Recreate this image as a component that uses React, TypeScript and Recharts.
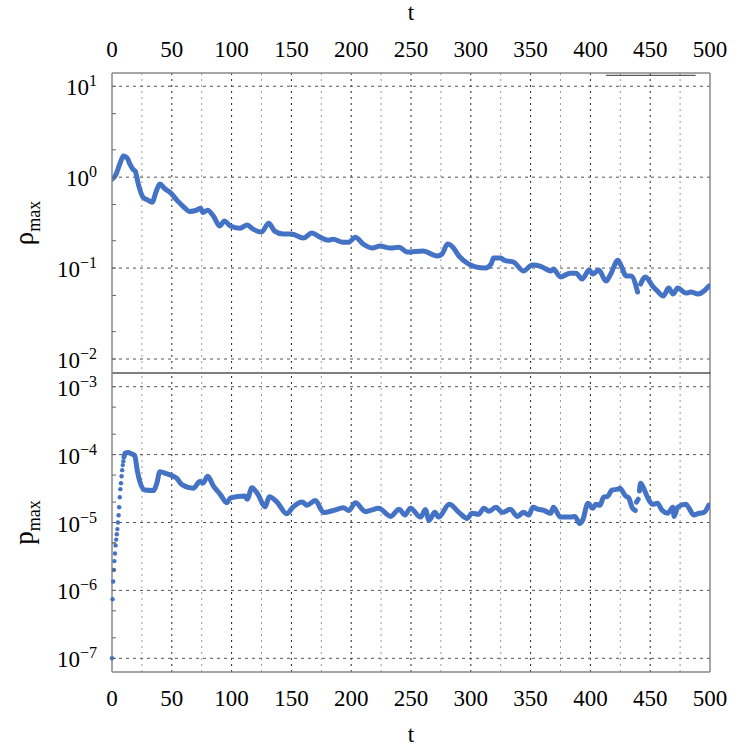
import React from 'react';
import { LineChart, Line, XAxis, YAxis, ReferenceLine } from 'recharts';

// ---------- data ----------
const T_RHO = [0, 3, 7, 9.5, 13, 15, 17.6, 19.5, 22, 26, 30, 33.5, 37, 40, 44, 48.6, 55, 60, 65, 70, 74, 76, 80, 85, 90, 94, 99, 107, 113, 118, 125, 131, 136, 143, 150, 160, 167, 174, 181, 185, 193, 198, 203.5, 210, 218, 224, 233, 240, 247, 260, 272, 276, 280.5, 285, 290, 298, 304, 312, 317, 319, 325, 328, 336, 344, 351.5, 358, 367, 369, 375, 383, 388, 393, 399, 402, 407, 413, 417, 423, 425, 430, 434, 439.5, 441, 442, 446, 452, 456, 461, 465.5, 469, 473, 480, 484, 490, 495, 499];
const RHO = [0.95, 1.05, 1.45, 1.71, 1.6, 1.39, 1.22, 1.16, 0.84, 0.6, 0.56, 0.53, 0.7, 0.84, 0.75, 0.68, 0.545, 0.47, 0.42, 0.43, 0.456, 0.41, 0.434, 0.37, 0.29, 0.33, 0.29, 0.275, 0.297, 0.268, 0.249, 0.312, 0.255, 0.237, 0.237, 0.214, 0.243, 0.219, 0.203, 0.208, 0.193, 0.193, 0.219, 0.184, 0.166, 0.175, 0.166, 0.17, 0.15, 0.154, 0.136, 0.143, 0.184, 0.17, 0.136, 0.111, 0.103, 0.1, 0.111, 0.129, 0.129, 0.122, 0.116, 0.093, 0.108, 0.105, 0.093, 0.0975, 0.08, 0.088, 0.088, 0.0757, 0.095, 0.086, 0.095, 0.072, 0.086, 0.122, 0.111, 0.0817, 0.0817, 0.0545, null, 0.0667, 0.08, 0.0634, 0.0559, 0.0492, 0.0603, 0.0518, 0.0603, 0.0531, 0.0545, 0.0518, 0.0559, 0.0634];

const T_P_EARLY = [0, 0.5, 1, 1.5, 2, 2.5, 3, 3.5, 4, 4.5, 5, 5.5, 6, 6.5, 7, 7.5, 8, 8.5, 9, 9.5];
const P_EARLY = [1e-7, 7.4e-7, 1.35e-6, 2.0e-6, 2.7e-6, 3.5e-6, 4.6e-6, 5.6e-6, 6.7e-6, 8.0e-6, 1.0e-5, 1.28e-5, 1.68e-5, 2.36e-5, 3.1e-5, 3.8e-5, 4.8e-5, 5.9e-5, 7.0e-5, 8.0e-5];

const T_P = [10, 11, 13.5, 16, 19, 21, 23.5, 27.5, 34.5, 37.5, 40, 46, 50, 54, 58.5, 68, 73.5, 76, 80, 85, 90.5, 96, 99, 111, 113, 117, 122, 128, 131.5, 138, 146, 151.5, 159, 163, 170, 177, 185, 193.5, 198, 203.5, 212, 216, 223, 233, 240, 245, 249.5, 258, 262, 265, 270, 273, 282, 290, 297, 301, 306.5, 311, 315, 321, 326.5, 333, 339, 344, 348.5, 352, 356, 361, 367, 369, 375, 383.5, 387, 391, 393.5, 398, 402, 404.5, 408, 411, 414.5, 418, 423, 424.5, 429.5, 432, 435, 437.5, 438, 438.5, 440, 440.5, 441, 442, 444.5, 448, 452, 456, 460, 464.5, 469, 470, 473, 480, 482.5, 486.5, 491, 495, 499];
const P = [9.2e-5, 1.05e-4, 1.07e-4, 1.03e-4, 9.7e-5, 6e-5, 3.9e-5, 3.0e-5, 2.95e-5, 3.8e-5, 5.6e-5, 5.2e-5, 4.9e-5, 4.5e-5, 3.6e-5, 3.2e-5, 4.0e-5, 3.8e-5, 4.8e-5, 3.4e-5, 2.6e-5, 1.95e-5, 2.3e-5, 2.45e-5, 2.2e-5, 3.25e-5, 2.6e-5, 1.7e-5, 2.4e-5, 2.0e-5, 1.35e-5, 1.7e-5, 2.0e-5, 1.8e-5, 2.1e-5, 1.4e-5, 1.5e-5, 1.65e-5, 1.5e-5, 1.95e-5, 1.45e-5, 1.51e-5, 1.62e-5, 1.23e-5, 1.57e-5, 1.29e-5, 1.62e-5, 1.2e-5, 1.55e-5, 1.08e-5, 1.41e-5, 1.2e-5, 1.85e-5, 1.41e-5, 1.15e-5, 1.37e-5, 1.32e-5, 1.62e-5, 1.46e-5, 1.68e-5, 1.41e-5, 1.57e-5, 1.23e-5, 1.41e-5, 1.29e-5, 1.68e-5, 1.57e-5, 1.51e-5, 1.37e-5, 1.68e-5, 1.2e-5, 1.2e-5, 1.23e-5, 9.7e-6, 1.08e-5, 1.92e-5, 1.62e-5, 1.85e-5, 1.8e-5, 2.36e-5, 2.44e-5, 3.0e-5, 3.1e-5, 3.2e-5, 2.44e-5, 2.3e-5, 1.65e-5, 1.51e-5, null, 2.0e-5, 2.2e-5, null, 2.9e-5, 3.8e-5, 3.2e-5, 2.3e-5, 1.85e-5, 1.92e-5, 1.51e-5, 1.37e-5, 1.68e-5, 1.23e-5, 1.68e-5, 1.85e-5, 1.62e-5, 1.29e-5, 1.37e-5, 1.41e-5, 1.8e-5];

const X_TICKS = [0, 50, 100, 150, 200, 250, 300, 350, 400, 450, 500];
const X_GRID = [25, 50, 75, 100, 125, 150, 175, 200, 225, 250, 275, 300, 325, 350, 375, 400, 425, 450, 475];
const RHO_DECADES = [0.01, 0.1, 1, 10];
const P_DECADES = [1e-7, 1e-6, 1e-5, 1e-4, 1e-3];
const MINOR_MULTS = [2, 5];
const RHO_DOMAIN: [number, number] = [Math.pow(10, -2.154), Math.pow(10, 1.146)];
const P_DOMAIN: [number, number] = [Math.pow(10, -7.202), Math.pow(10, -2.798)];
const LEGEND_T = [413, 488];
const LEGEND_RHO = 13.2;

const rhoData = T_RHO.map((t, i) => ({ t, v: RHO[i] }));
const pEarlyData = T_P_EARLY.map((t, i) => ({ t, v: P_EARLY[i] }));
const pData = T_P.map((t, i) => ({ t, v: P[i] }));

const withMinors = (dec: number[], dom: [number, number]) => {
  const out: number[] = [];
  dec.forEach((d) => {
    out.push(d);
    MINOR_MULTS.forEach((m) => out.push(d * m));
  });
  dec.forEach((d) => MINOR_MULTS.forEach((m) => out.push((d / 10) * m)));
  return Array.from(new Set(out)).filter((v) => v >= dom[0] && v <= dom[1]).sort((a, b) => a - b);
};

const FONT = '"Liberation Serif", "Times New Roman", serif';
const BLUE = '#4472C4';
const FRAME = '#888';

const LogTick = (props: any) => {
  const { x, y, payload } = props;
  const v = payload.value;
  const lg = Math.log10(v);
  const e = Math.round(lg);
  const major = Math.abs(lg - e) < 1e-6;
  const axisX = x + 15;
  return (
    <g>
      <line x1={axisX} x2={axisX + 4} y1={y} y2={y} stroke="#666" strokeWidth={1} />
      {major && (
        <text x={x} y={y + 9} textAnchor="end" fontFamily={FONT} fontSize={23} fill="#000">
          <tspan>10</tspan>
          <tspan dy={-9} fontSize={16}>{e < 0 ? '\u2212' + Math.abs(e) : String(e)}</tspan>
        </text>
      )}
    </g>
  );
};

const TopXTick = (props: any) => {
  const { x, y, payload } = props;
  return (
    <text x={x} y={y} textAnchor="middle" fontFamily={FONT} fontSize={23} fill="#000">
      {payload.value}
    </text>
  );
};

const BottomXTick = (props: any) => {
  const { x, y, payload } = props;
  return (
    <text x={x} y={y + 18} textAnchor="middle" fontFamily={FONT} fontSize={23} fill="#000">
      {payload.value}
    </text>
  );
};

const XLabelTop = (props: any) => {
  const vb = props.viewBox || {};
  return (
    <text x={vb.x + vb.width / 2} y={vb.y - 13} textAnchor="middle" fontFamily={FONT} fontSize={23} fill="#000">
      t
    </text>
  );
};

const XLabelBottom = (props: any) => {
  const vb = props.viewBox || {};
  return (
    <text x={vb.x + vb.width / 2} y={vb.y + vb.height + 30} textAnchor="middle" fontFamily={FONT} fontSize={23} fill="#000">
      t
    </text>
  );
};

const makeYLabel = (main: string) => (props: any) => {
  const vb = props.viewBox || {};
  const cx = 33;
  const cy = vb.y + vb.height / 2;
  return (
    <text x={cx} y={cy} transform={`rotate(-90, ${cx}, ${cy})`} textAnchor="middle" fontFamily={FONT} fontSize={27} fill="#000">
      <tspan>{main}</tspan>
      <tspan dy={7} fontSize={18}>max</tspan>
    </text>
  );
};

const gridLines = (decades: number[]) => (
  <>
    {X_GRID.map((g) => (
      <ReferenceLine key={'gx' + g} x={g} stroke={g % 50 === 0 ? '#222' : '#999'} strokeDasharray="2 4" strokeWidth={1} />
    ))}
    {decades.map((d) => (
      <ReferenceLine key={'gy' + d} y={d} stroke="#555" strokeDasharray="3 4" strokeWidth={1} />
    ))}
  </>
);

export default function App() {
  return (
    <div style={{ position: 'absolute', left: 0, top: 0, width: 747, height: 747, background: '#fff' }}>
      <div style={{ position: 'absolute', left: 0, top: 0 }}>
        <LineChart width={747} height={373} margin={{ top: 33, right: 37, left: 0, bottom: 0 }}>
          <XAxis
            xAxisId={0}
            type="number"
            dataKey="t"
            orientation="top"
            domain={[0, 500]}
            ticks={X_TICKS}
            height={40}
            tickSize={0}
            tickMargin={16}
            axisLine={{ stroke: FRAME, strokeWidth: 1.5 }}
            tick={<TopXTick />}
            label={{ content: <XLabelTop /> }}
            allowDataOverflow
          />
          <YAxis
            scale="log"
            type="number"
            domain={RHO_DOMAIN}
            ticks={withMinors(RHO_DECADES, RHO_DOMAIN)}
            width={112}
            tickSize={0}
            tickMargin={15}
            axisLine={{ stroke: FRAME, strokeWidth: 1.5 }}
            tick={<LogTick />}
            label={{ content: makeYLabel('\u03C1') }}
            allowDataOverflow
            interval={0}
          />
          {gridLines(RHO_DECADES)}
          <ReferenceLine x={500} stroke={FRAME} strokeWidth={1.5} />
          <ReferenceLine y={RHO_DOMAIN[0]} stroke="#000" strokeWidth={1.2} />
          <ReferenceLine
            segment={[{ x: LEGEND_T[0], y: LEGEND_RHO }, { x: LEGEND_T[1], y: LEGEND_RHO }]}
            stroke="#333"
            strokeWidth={1}
          />
          <Line
            type="monotone"
            data={rhoData}
            dataKey="v"
            stroke={BLUE}
            strokeWidth={5}
            dot={false}
            isAnimationActive={false}
            strokeLinejoin="round"
            strokeLinecap="round"
            connectNulls={false}
          />
        </LineChart>
      </div>
      <div style={{ position: 'absolute', left: 0, top: 373 }}>
        <LineChart width={747} height={374} margin={{ top: 0, right: 37, left: 0, bottom: 35 }}>
          <XAxis
            type="number"
            dataKey="t"
            orientation="bottom"
            domain={[0, 500]}
            ticks={X_TICKS}
            height={40}
            tickSize={0}
            tickMargin={16}
            axisLine={{ stroke: FRAME, strokeWidth: 1.5 }}
            tick={<BottomXTick />}
            label={{ content: <XLabelBottom /> }}
            allowDataOverflow
          />
          <YAxis
            scale="log"
            type="number"
            domain={P_DOMAIN}
            ticks={withMinors(P_DECADES, P_DOMAIN)}
            width={112}
            tickSize={0}
            tickMargin={15}
            axisLine={{ stroke: FRAME, strokeWidth: 1.5 }}
            tick={<LogTick />}
            label={{ content: makeYLabel('p') }}
            allowDataOverflow
            interval={0}
          />
          {gridLines(P_DECADES)}
          <ReferenceLine x={500} stroke={FRAME} strokeWidth={1.5} />
          <ReferenceLine y={P_DOMAIN[1]} stroke="#000" strokeWidth={1.2} />
          <Line
            data={pEarlyData}
            dataKey="v"
            stroke="none"
            strokeWidth={0}
            dot={{ r: 2.2, fill: BLUE, stroke: 'none', clipDot: false }}
            isAnimationActive={false}
          />
          <Line
            type="monotone"
            data={pData}
            dataKey="v"
            stroke={BLUE}
            strokeWidth={5}
            dot={false}
            isAnimationActive={false}
            strokeLinejoin="round"
            strokeLinecap="round"
            connectNulls={false}
          />
        </LineChart>
      </div>
    </div>
  );
}
